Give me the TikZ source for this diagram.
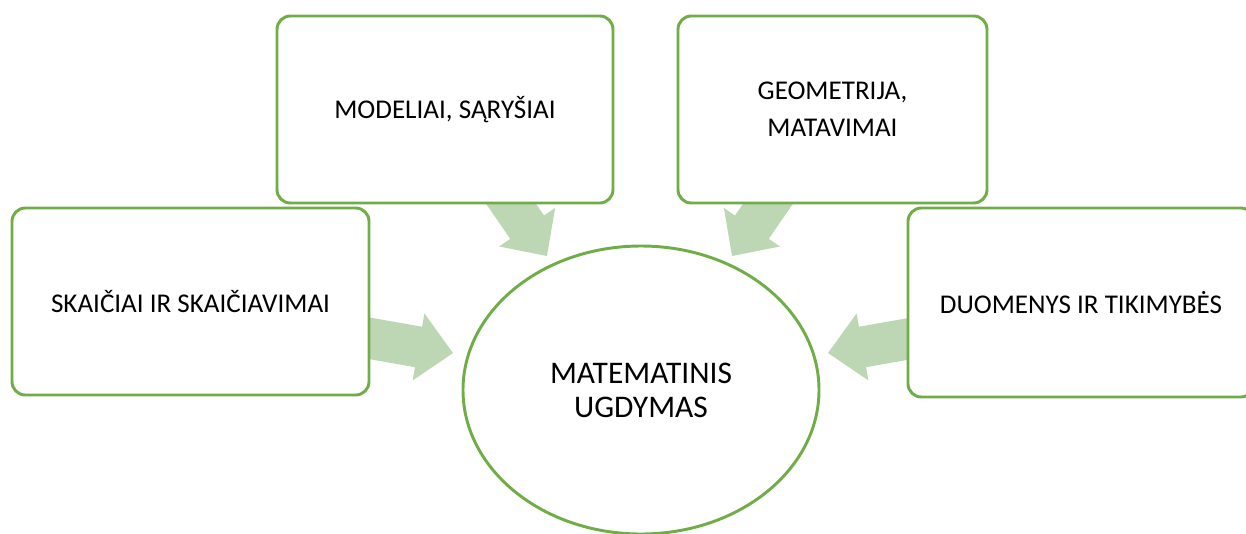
\documentclass[tikz,border=0pt]{standalone}
\usepackage{fontspec}
\setmainfont{Carlito}
\usetikzlibrary{calc,backgrounds,shapes.geometric}

\definecolor{boxgreen}{RGB}{112,173,71}
\definecolor{arrowgreen}{RGB}{189,214,180}

% distances for the block arrows
\newcommand\headlen{26.25pt}
\newcommand\halfhead{25.5pt}
\newcommand\halfbody{15.4pt}

% block arrow from #1 (start) to #2 (tip)
\newcommand\blockarrow[2]{%
  \path ($(#2)!\headlen!(#1)$) coordinate (ba-base);
  \fill[arrowgreen]
    ($(#1)!\halfbody!90:(#2)$) --
    ($(ba-base)!\halfbody!90:(#2)$) --
    ($(ba-base)!\halfhead!90:(#2)$) --
    (#2) --
    ($(ba-base)!\halfhead!-90:(#2)$) --
    ($(ba-base)!\halfbody!-90:(#2)$) --
    ($(#1)!\halfbody!-90:(#2)$) -- cycle;
}

\tikzset{
  topicbox/.style={draw=boxgreen, line width=2.2pt, fill=white,
    rounded corners=10pt, inner sep=0pt, align=center,
    font=\fontsize{20.3}{28}\selectfont},
  centre/.style={draw=boxgreen, line width=2.2pt, fill=white,
    ellipse, inner sep=0pt, align=center,
    font=\fontsize{23.6}{25.5}\selectfont},
}

\begin{document}
\begin{tikzpicture}[x=0.75pt, y=-0.75pt]
  \useasboundingbox (0,0) rectangle (1246,533);
  \clip (0,0) rectangle (1246,533);

  % central ellipse
  \node[centre, minimum width=356*0.75pt, minimum height=288*0.75pt]
    (mu) at (641,390) {MATEMATINIS\\UGDYMAS};

  % topic boxes
  \node[topicbox, minimum width=336*0.75pt, minimum height=187*0.75pt]
    (mod) at (445,109.5) {MODELIAI, SĄRYŠIAI};
  \node[topicbox, minimum width=309*0.75pt, minimum height=187*0.75pt]
    (geo) at (832.5,109.5) {GEOMETRIJA,\\MATAVIMAI};
  \node[topicbox, minimum width=357*0.75pt, minimum height=187*0.75pt]
    (ska) at (190.5,301.5) {SKAIČIAI IR SKAIČIAVIMAI};
  \node[topicbox, minimum width=346*0.75pt, minimum height=189*0.75pt]
    (duo) at (1081,302.5) {DUOMENYS IR TIKIMYBĖS};

  % arrow ends
  \coordinate (ska-s) at (345,334);
  \coordinate (ska-t) at (453,353);
  \coordinate (mod-s) at (496,182);
  \coordinate (mod-t) at (547,256);
  \coordinate (geo-s) at (783,182);
  \coordinate (geo-t) at (732,256);
  \coordinate (duo-s) at (936,334);
  \coordinate (duo-t) at (828,353);

  \begin{scope}[on background layer]
    \blockarrow{ska-s}{ska-t}
    \blockarrow{mod-s}{mod-t}
    \blockarrow{geo-s}{geo-t}
    \blockarrow{duo-s}{duo-t}
  \end{scope}
\end{tikzpicture}
\end{document}
